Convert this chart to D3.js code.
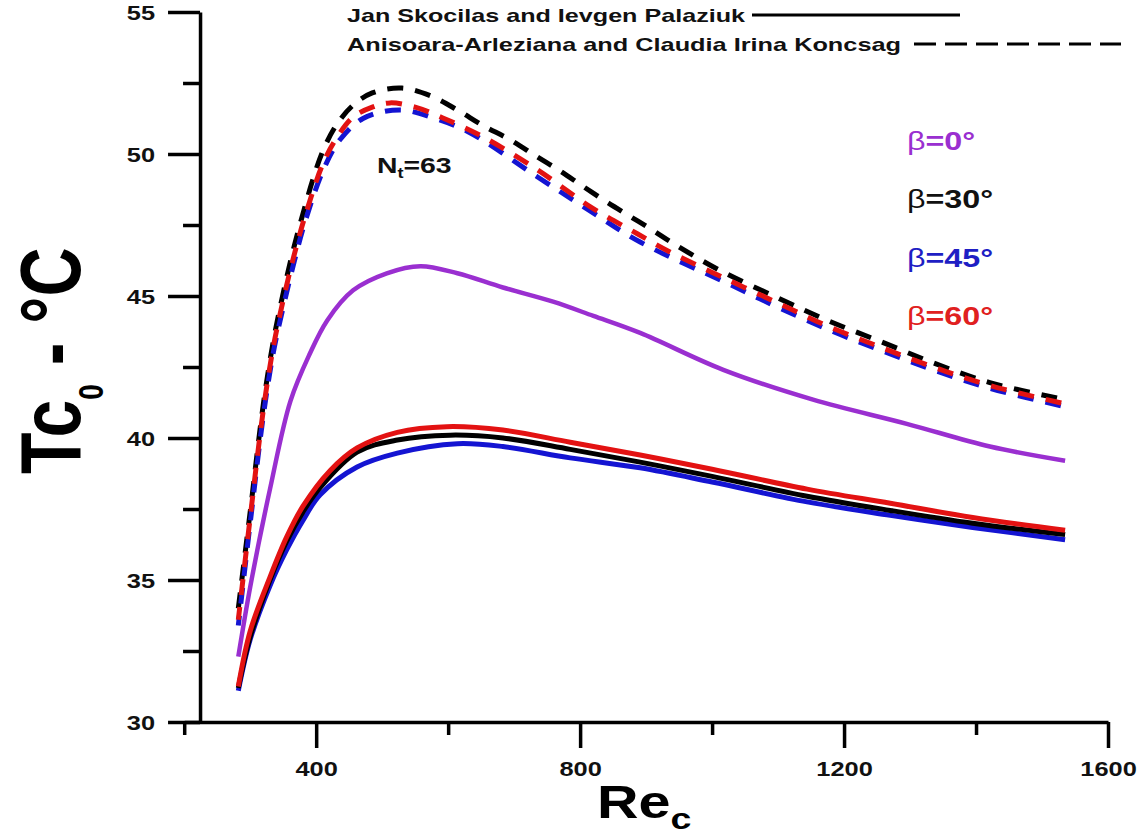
<!DOCTYPE html>
<html>
<head>
<meta charset="utf-8">
<script src="https://cdn.jsdelivr.net/npm/d3@7"></script>
<style>
  body { margin: 0; background: #fff; }
  svg { display: block; font-family: "Liberation Sans", Arial, sans-serif; }
</style>
</head>
<body>
<div id="chart"></div>
<script>

// axis ticks
const xTicks = [400, 800, 1200, 1600];
const xMinorTicks = [200, 600, 1000, 1400];
const yTicks = [30, 35, 40, 45, 50, 55];
const yMinorTicks = [32.5, 37.5, 42.5, 47.5, 52.5];

// Jan Skocilas and Ievgen Palaziuk (solid) -- [Re_c, Tc0]
const skocilas0 = [[282,32.3],[300,34.75],[330,38.2],[361,41.3],[390,42.95],[417,44.15],[456,45.2],[507,45.8],[558,46.05],[614,45.8],[683,45.3],[759,44.8],[820,44.3],[891,43.7],[1017,42.4],[1153,41.35],[1295,40.5],[1421,39.7],[1535,39.2]];
const skocilas30 = [[282,31.2],[300,33.0],[330,35.0],[355,36.35],[380,37.4],[406,38.25],[462,39.5],[523,39.93],[603,40.1],[683,40.0],[785,39.6],[891,39.15],[1000,38.65],[1144,37.95],[1270,37.45],[1395,37.0],[1535,36.6]];
const skocilas45 = [[282,31.1],[300,32.9],[330,34.8],[355,36.05],[380,37.1],[406,38.0],[462,38.98],[523,39.47],[614,39.8],[683,39.7],[785,39.3],[891,38.95],[1000,38.45],[1144,37.75],[1270,37.28],[1395,36.85],[1535,36.42]];
const skocilas60 = [[282,31.25],[300,33.2],[330,35.1],[355,36.5],[380,37.6],[421,38.85],[462,39.65],[523,40.2],[598,40.4],[683,40.28],[785,39.85],[891,39.4],[1000,38.9],[1144,38.2],[1270,37.7],[1395,37.2],[1535,36.75]];

// Anisoara-Arleziana and Claudia Irina Koncsag (dashed)
const koncsag30 = [[282,34.0],[300,37.4],[320,41.2],[335,43.4],[350,45.1],[365,46.6],[380,47.9],[395,49.1],[410,50.1],[430,51.0],[455,51.7],[485,52.15],[530,52.32],[573,52.05],[614,51.55],[653,51.0],[694,50.5],[735,49.9],[770,49.4],[805,48.85],[841,48.3],[876,47.8],[911,47.3],[941,46.85],[1012,45.9],[1098,44.95],[1174,44.15],[1255,43.4],[1335,42.65],[1421,41.95],[1535,41.35]];
const koncsag45 = [[282,33.4],[300,37.0],[320,40.8],[335,43.0],[350,44.6],[365,46.05],[383,47.6],[411,49.45],[436,50.5],[471,51.25],[527,51.55],[580,51.25],[633,50.75],[735,49.2],[815,48.0],[891,46.9],[1023,45.45],[1100,44.6],[1183,43.75],[1260,43.05],[1335,42.4],[1421,41.75],[1535,41.1]];
const koncsag60 = [[282,33.6],[300,37.2],[320,41.0],[335,43.2],[350,44.85],[365,46.3],[383,47.8],[411,49.7],[432,50.6],[456,51.3],[485,51.65],[512,51.8],[550,51.65],[592,51.27],[653,50.6],[735,49.45],[815,48.15],[886,47.2],[936,46.55],[1017,45.65],[1100,44.75],[1174,43.95],[1255,43.2],[1335,42.5],[1421,41.85],[1535,41.2]];

const betaLabels = ['0', '30', '45', '60'];

const PURPLE = '#9a2fd0', BLUE = '#1414d2', RED = '#e31212', BLACK = '#000';
const betaColors = [PURPLE, '#111', '#1e1ec4', '#e02020'];

const series = [
  {data: skocilas0, color: PURPLE, w: 4.5},
  {data: skocilas45, color: BLUE, w: 5},
  {data: skocilas30, color: BLACK, w: 5},
  {data: skocilas60, color: RED, w: 5},
  {data: koncsag30, color: BLACK, w: 5, dash: '16,12', off: 0},
  {data: koncsag45, color: BLUE, w: 5, dash: '16,12', off: 6},
  {data: koncsag60, color: RED, w: 5, dash: '16,12', off: 3}
];

const W = 1140, H = 834;
const svg = d3.select('#chart').append('svg')
  .attr('width', W).attr('height', H);

const x = d3.scaleLinear().domain([200, 1600]).range([184.2, 1108]);
const y = d3.scaleLinear().domain([30, 55]).range([722, 12]);

// curves
const line = d3.line()
  .x(d => x(d[0]))
  .y(d => y(d[1]))
  .curve(d3.curveCatmullRom.alpha(0.5));

svg.append('g').selectAll('path')
  .data(series)
  .join('path')
  .attr('d', d => line(d.data))
  .attr('fill', 'none')
  .attr('stroke', d => d.color)
  .attr('stroke-width', d => d.w)
  .attr('stroke-linejoin', 'round')
  .attr('stroke-dasharray', d => d.dash || null)
  .attr('stroke-dashoffset', d => d.off || 0);

// x axis
const xAxis = svg.append('g')
  .attr('transform', `translate(0,${y(30)})`)
  .call(d3.axisBottom(x).tickValues(xTicks).tickSize(26).tickSizeOuter(0).tickFormat(d3.format('d')));
svg.append('g')
  .attr('transform', `translate(0,${y(30)})`)
  .call(d3.axisBottom(x).tickValues(xMinorTicks).tickSize(13).tickSizeOuter(0).tickFormat(''))
  .select('.domain').remove();

// y axis
const yAxis = svg.append('g')
  .attr('transform', `translate(${x(224)},0)`)
  .call(d3.axisLeft(y).tickValues(yTicks).tickSize(32).tickSizeOuter(0));
svg.append('g')
  .attr('transform', `translate(${x(224)},0)`)
  .call(d3.axisLeft(y).tickValues(yMinorTicks).tickSize(17).tickSizeOuter(0).tickFormat(''))
  .select('.domain').remove();

svg.selectAll('.domain, .tick line')
  .attr('stroke', '#000')
  .attr('stroke-width', 3.5);

const SX = 1.27;
xAxis.selectAll('.tick text')
  .attr('font-size', 20).attr('font-weight', 'bold').attr('fill', '#111')
  .attr('font-family', '"Liberation Sans", Arial, sans-serif')
  .attr('y', 0).attr('dy', 0)
  .attr('transform', `translate(0,54) scale(${SX},1)`);

yAxis.selectAll('.tick text')
  .attr('font-size', 20).attr('font-weight', 'bold').attr('fill', '#111')
  .attr('font-family', '"Liberation Sans", Arial, sans-serif')
  .attr('x', 0).attr('dy', '0.35em')
  .attr('transform', `translate(-45,0) scale(${SX},1)`);

// axis titles
const yTitle = svg.append('text')
  .attr('transform', 'translate(80,474) scale(1.25,1) rotate(-90)')
  .attr('font-size', 68).attr('font-weight', 'bold').attr('fill', '#000');
yTitle.append('tspan').text('Tc');
yTitle.append('tspan').attr('font-size', 28).attr('dy', 18).text('0');
yTitle.append('tspan').attr('dy', -18).text(' - °C');

const xTitle = svg.append('text')
  .attr('transform', 'translate(597,818) scale(1.25,1)')
  .attr('font-size', 46).attr('font-weight', 'bold').attr('fill', '#000');
xTitle.append('tspan').text('Re');
xTitle.append('tspan').attr('font-size', 30).attr('dy', 11).text('c');

// legend
svg.append('text')
  .attr('x', 347).attr('y', 22)
  .attr('font-size', 19).attr('font-weight', 'bold').attr('fill', '#111')
  .attr('textLength', 398).attr('lengthAdjust', 'spacingAndGlyphs')
  .text('Jan Skocilas and Ievgen Palaziuk');
svg.append('line')
  .attr('x1', 752).attr('x2', 960).attr('y1', 15).attr('y2', 15)
  .attr('stroke', '#000').attr('stroke-width', 3);

svg.append('text')
  .attr('x', 347).attr('y', 51)
  .attr('font-size', 19).attr('font-weight', 'bold').attr('fill', '#111')
  .attr('textLength', 554).attr('lengthAdjust', 'spacingAndGlyphs')
  .text('Anisoara-Arleziana and Claudia Irina Koncsag');
svg.append('line')
  .attr('x1', 914).attr('x2', 1121).attr('y1', 44).attr('y2', 44)
  .attr('stroke', '#000').attr('stroke-width', 3)
  .attr('stroke-dasharray', '22,9');

// N_t label
const nt = svg.append('text')
  .attr('transform', 'translate(377,173) scale(1.29,1)')
  .attr('font-size', 22).attr('font-weight', 'bold').attr('fill', '#111');
nt.append('tspan').text('N');
nt.append('tspan').attr('font-size', 14).attr('dy', 5).text('t');
nt.append('tspan').attr('dy', -5).text('=63');

// beta labels
const betaY = [150, 208, 267, 325];
betaLabels.forEach((b, i) => {
  const t = svg.append('text')
    .attr('transform', `translate(907,${betaY[i]}) scale(1.29,1)`)
    .attr('font-size', 25).attr('fill', betaColors[i]);
  t.append('tspan').attr('font-weight', 'normal').text('β');
  t.append('tspan').attr('font-weight', 'bold').text('=' + b + '°');
});

</script>
</body>
</html>
